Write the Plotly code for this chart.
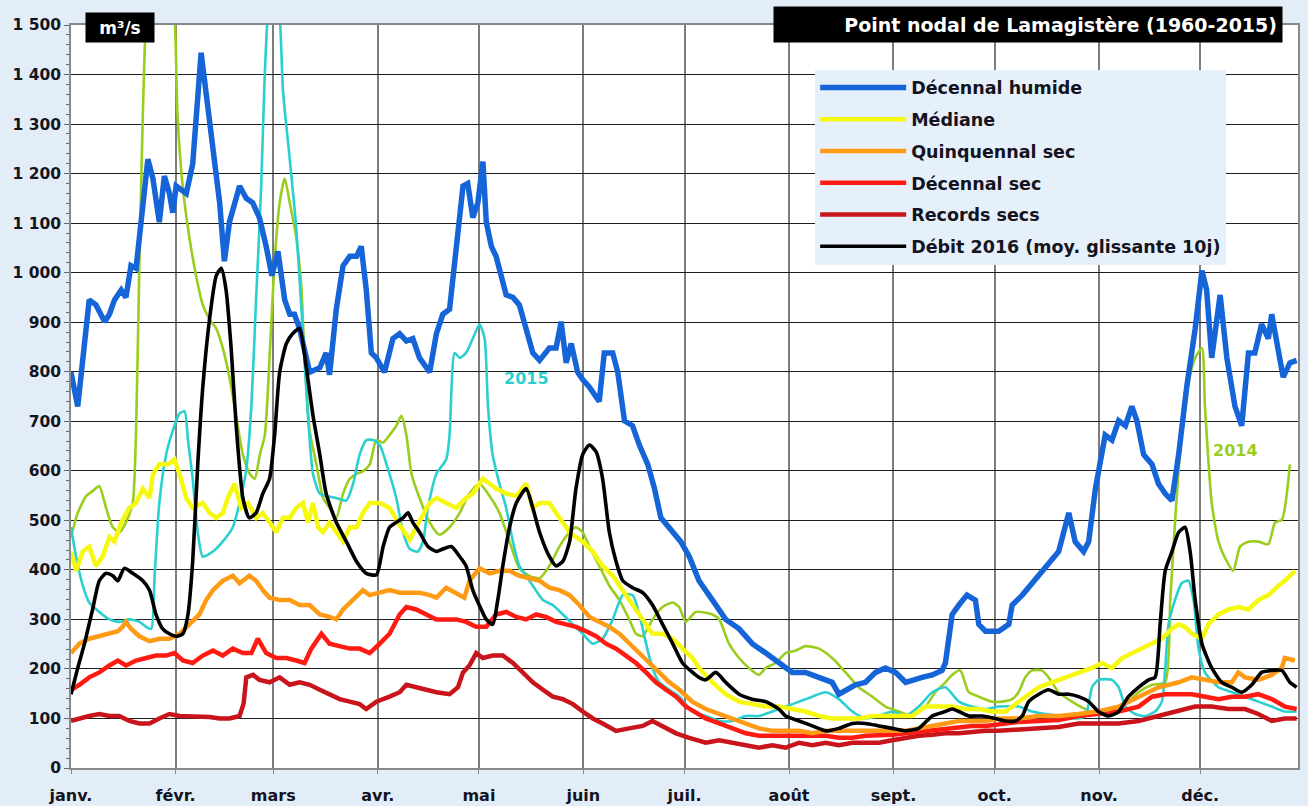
import plotly.graph_objects as go

# ---------------- data (day of year, m3/s) ----------------
month_days = [0, 31, 60, 91, 121, 152, 182, 213, 244, 274, 305, 335]
month_labels = ["janv.", "févr.", "mars", "avr.", "mai", "juin", "juil.", "août", "sept.", "oct.", "nov.", "déc."]
y_ticks = [0, 100, 200, 300, 400, 500, 600, 700, 800, 900, 1000, 1100, 1200, 1300, 1400, 1500]
y_tick_labels = ["0", "100", "200", "300", "400", "500", "600", "700", "800", "900",
                 "1 000", "1 100", "1 200", "1 300", "1 400", "1 500"]

humide_days = [0, 2, 5.4, 7.4, 10, 11.4, 12.9, 14.9, 16.3, 17.8, 19.3, 20.8, 22.8, 24.3, 26.2, 27.7, 29.2, 30.2, 31.2, 34.2,
               36.1, 38.6, 40.1, 42.1, 44.1, 45.5, 47, 50, 52, 53.9, 55.9, 57.9, 59.6, 61.4, 63.4, 64.9, 66.3, 67.8, 70.8,
               73.8, 75.7, 76.7, 78.7, 80.7, 82.7, 84.7, 86.1, 87.6, 89.1, 90.6, 93, 95.5, 97.5, 99.5, 101.4, 103.4, 106.4,
               108.4, 110.3, 112.3, 114.3, 116.3, 117.7, 119.2, 120.7, 122.2, 123.2, 124.7, 126.1, 127.6, 129.1, 131.1, 133,
               135, 137, 139, 141.9, 143.9, 145.4, 146.9, 148.4, 150.3, 151.8, 153.8, 156.7, 158.2, 160.7, 162.2, 164.2,
               166.6, 168.6, 171.1, 173.1, 175, 177.5, 180.9, 183.4, 186.3, 190.3, 194.2, 198.2, 202.1, 206.1, 210, 214,
               217.9, 221.9, 225.8, 227.8, 229.8, 232.7, 235.7, 238.7, 241.6, 244.6, 247.6, 249.5, 252.5, 255.5, 258.4,
               259.4, 261.4, 263.4, 265.8, 268.3, 269.3, 271.3, 275.2, 278.2, 279.2, 282.2, 285.1, 289.1, 293, 296, 297.9,
               300.4, 301.9, 303.9, 306.8, 308.8, 310.8, 312.8, 314.7, 316.2, 318.2, 320.7, 322.6, 324.6, 326.6, 328.6, 331,
               333.5, 335.5, 336.9, 338.4, 340.9, 342.9, 345.3, 347.3, 349.3, 351.2, 353.2, 355.2, 356.2, 358.2, 359.6,
               361.6, 363.6]
humide_vals = [799, 730, 945, 935, 901, 916, 945, 965, 950, 1014, 1009, 1102, 1229, 1190, 1102, 1195, 1160, 1121, 1175, 1160,
               1219, 1444, 1366, 1258, 1141, 1023, 1102, 1175, 1150, 1141, 1111, 1053, 994, 1043, 945, 916, 916, 887, 799,
               808, 838, 794, 926, 1014, 1033, 1033, 1053, 965, 838, 828, 799, 867, 877, 862, 867, 828, 799,
               877, 916, 926, 1053, 1175, 1180, 1111, 1141, 1224, 1102, 1053, 1033, 994, 955, 950, 935,
               887, 838, 823, 848, 848, 901, 818, 857, 799, 784, 769, 740, 838, 838, 799, 701,
               691, 652, 613, 564, 505, 486, 457, 427, 378, 339, 300, 281, 251, 232, 212, 193,
               193, 183, 173, 149, 158, 168, 173, 193, 202, 193, 173, 178, 183, 188, 197,
               212, 310, 329, 349, 339, 290, 276, 276, 290, 329, 349, 373, 408, 437, 515, 457,
               437, 457, 564, 672, 662, 701, 691, 730, 701, 633, 613, 574, 554, 540, 633, 770,
               887, 1004, 965, 828, 955, 828, 730, 691, 838, 838, 896, 867, 916, 838, 789,
               818, 823]

mediane_days = [0, 1.5, 3.5, 5.4, 7.4, 9.4, 11.4, 12.9, 14.9, 17.3, 19.3, 21.3, 23.3, 24.3, 26.2, 28.7, 30.7, 32.2, 34.2,
                36.1, 39.1, 41.1, 43.1, 45.1, 46.5, 48.5, 50.5, 52.5, 55, 56.9, 58.9, 60.9, 62.9, 64.9, 66.8, 68.8, 70.3,
                71.8, 73.3, 74.8, 76.7, 78.7, 80.7, 82.7, 84.7, 86.6, 88.6, 91.6, 94.5, 97.5, 100.5, 103.5, 106.4, 108.4,
                111.3, 114.3, 117.2, 119.2, 122.2, 124.2, 126.1, 129.1, 132.1, 135, 137, 139, 141.9, 143.9, 145.9, 147.9,
                149.8, 151.8, 154.8, 157.7, 160.7, 163.7, 166.6, 169.6, 172.5, 175.5, 178.5, 181.4, 184.4, 186.3, 190.3,
                194.2, 198.2, 202.1, 206.1, 210, 214, 217.9, 221.9, 225.8, 229.8, 233.7, 237.7, 241.6, 245.6, 249.5, 253.5,
                257.4, 261.4, 265.3, 269.3, 273.2, 277.2, 279.2, 283.1, 287.1, 291, 295, 298.9, 302.9, 305.8, 308.8, 311.8,
                314.7, 317.7, 320.7, 323.6, 326.6, 328.6, 330.5, 332.5, 335.5, 337.4, 340.4, 343.4, 346.3, 349.3, 352.2,
                355.2, 358.2, 360.1, 363.1]
mediane_vals = [437, 398, 437, 447, 408, 427, 466, 457, 496, 525, 535, 564, 545, 593, 613, 613, 623, 593, 545,
                525, 535, 515, 505, 515, 545, 574, 525, 535, 505, 515, 496, 476, 505, 505, 525, 535, 496,
                535, 486, 476, 496, 476, 457, 486, 486, 515, 535, 535, 525, 490, 461, 500, 535, 545,
                535, 525, 545, 554, 584, 574, 564, 554, 549, 574, 525, 535, 535, 515, 496, 476,
                466, 457, 437, 408, 388, 359, 329, 300, 271, 271, 261, 241, 222, 202, 173,
                149, 134, 129, 124, 124, 119, 114, 105, 100, 100, 100, 105, 105, 105, 105, 124,
                124, 124, 119, 119, 114, 114, 124, 144, 163, 173, 183, 193, 202, 212, 202, 222,
                232, 241, 251, 261, 281, 290, 285, 271, 261, 290, 310, 320, 325, 320, 339,
                349, 368, 378, 398]

quinq_days = [0, 2.5, 5.4, 8.4, 11.4, 13.9, 15.3, 16.3, 17.8, 20.3, 23.3, 26.2, 29.2, 32.2, 35.1, 38.1, 40.1, 42.1, 45,
              48, 50, 52.9, 54.9, 56.9, 58.9, 61.9, 64.9, 67.8, 70.8, 73.8, 76.7, 78.7, 80.7, 83.7, 86.6, 88.6, 91.6, 94.5,
              97.5, 100.5, 103.4, 106.4, 108.4, 111.3, 114.3, 116.7, 118.2, 121.2, 124.2, 127.1, 130.1, 133, 136, 139,
              141.9, 144.9, 147.9, 150.8, 153.8, 156.7, 159.7, 162.7, 165.6, 168.6, 171.6, 174.5, 177.5, 180.5, 184.3,
              188.3, 192.3, 196.2, 200.2, 204.1, 208.1, 212, 216, 219.9, 223.9, 227.8, 231.8, 235.7, 239.7, 243.6, 247.6,
              251.5, 255.5, 259.4, 263.4, 267.3, 271.3, 275.2, 281.1, 287.1, 293, 298.9, 304.8, 310.8, 316.7, 322.6,
              328.6, 332.5, 336.5, 340.4, 344.4, 346.3, 348.3, 352.2, 356.2, 359.2, 360.1, 363.1]
quinq_vals = [232, 251, 261, 266, 271, 276, 285, 295, 281, 266, 256, 261, 261, 271, 290, 310, 339, 359, 378,
              388, 373, 388, 378, 359, 344, 339, 339, 329, 329, 310, 305, 300, 320, 339, 359, 349, 354, 359,
              354, 354, 354, 349, 344, 364, 354, 344, 378, 403, 393, 398, 398, 388, 383, 378,
              364, 359, 349, 329, 305, 295, 285, 271, 251, 232, 212, 193, 173, 158, 134,
              119, 109, 100, 90, 80, 75, 75, 75, 70, 75, 75, 75, 75, 75, 75, 75,
              80, 85, 90, 95, 95, 95, 100, 100, 105, 105, 109, 114, 124, 144, 163,
              173, 183, 178, 173, 173, 193, 183, 178, 188, 202, 222, 217]

decsec_days = [0, 2.5, 5.4, 8.4, 11.4, 13.9, 16.3, 19.3, 22.3, 25.2, 28.2, 30.7, 33.2, 36.1, 39.1, 42.1, 45, 48, 51, 53.5,
               55.4, 57.9, 60.9, 63.9, 66.8, 69.3, 71.3, 74.3, 76.7, 79.7, 82.7, 85.6, 88.6, 91.6, 94.5, 97.5, 99.5, 102.4,
               105.4, 108.4, 111.3, 114.3, 117.2, 120.2, 123.2, 126.1, 129.1, 132.1, 135, 138, 140.9, 143.9, 146.9, 149.8,
               152.8, 155.8, 158.7, 161.7, 164.6, 167.6, 170.6, 173.5, 176.5, 179.5, 182.4, 185.9, 188.3, 192.3, 196.2,
               200.2, 204.1, 208.1, 212, 216, 219.9, 223.9, 227.8, 231.8, 235.7, 239.7, 243.6, 247.6, 251.5, 255.5, 259.4,
               263.4, 267.3, 271.3, 275.2, 281.1, 287.1, 293, 298.9, 304.8, 310.8, 316.7, 320.7, 324.6, 328.6, 332.5,
               336.5, 340.4, 344.4, 348.3, 352.2, 356.2, 360.1, 363.6]
decsec_vals = [158, 168, 183, 193, 207, 217, 207, 217, 222, 227, 227, 232, 217, 212, 227, 237, 227, 241, 232, 232,
               261, 232, 222, 222, 217, 212, 241, 271, 251, 246, 241, 241, 232, 251, 271, 310, 325, 320,
               310, 300, 300, 300, 295, 285, 285, 310, 315, 305, 300, 310, 305, 295, 290, 285,
               276, 266, 251, 241, 227, 212, 193, 173, 158, 144, 124, 109, 100, 90, 80,
               70, 65, 65, 65, 65, 67, 65, 61, 61, 65, 65, 67, 70, 73, 77, 80,
               83, 85, 85, 88, 93, 95, 97, 105, 109, 114, 124, 144, 149, 149, 149,
               144, 139, 144, 144, 149, 139, 124, 119]

records_days = [0, 2.5, 5.4, 8.4, 11.4, 14.3, 17.3, 20.3, 23.3, 26.2, 29.2, 32.2, 35.1, 38.1, 41.1, 44.1, 47, 50, 51.2, 52,
                54, 55.9, 58.9, 61.9, 64.9, 67.8, 70.8, 73.8, 76.7, 79.7, 82.7, 85.6, 87.6, 90.6, 94.5, 97.5, 99.5, 102.4,
                105.4, 108.4, 112.3, 114.8, 116.3, 118.2, 120.2, 122.2, 125.1, 128.1, 131.1, 134, 137, 140, 142.9, 145.9,
                148.9, 151.8, 154.8, 157.7, 161.7, 165.6, 169.6, 172.5, 175.5, 179.5, 183.4, 188.3, 192.3, 196.2, 200.2,
                204.1, 208.1, 212, 216, 219.9, 223.9, 227.8, 231.8, 235.7, 239.7, 243.6, 247.6, 251.5, 255.5, 259.4, 263.4,
                267.3, 271.3, 275.2, 281.1, 287.1, 293, 298.9, 304.8, 310.8, 316.7, 322.6, 328.6, 333.5, 338.4, 343.4,
                348.3, 352.2, 356.2, 360.1, 363.6]
records_vals = [95, 100, 105, 109, 105, 105, 95, 90, 90, 100, 109, 105, 105, 105, 103, 100, 100, 105, 130, 183,
                188, 178, 173, 183, 168, 173, 168, 158, 149, 139, 134, 129, 119, 134, 144, 153, 168, 163,
                158, 153, 149, 163, 193, 207, 232, 222, 227, 227, 212, 193, 173, 158, 144, 139,
                129, 114, 100, 90, 75, 80, 85, 95, 85, 70, 61, 51, 56, 51, 46,
                41, 46, 41, 51, 46, 51, 46, 51, 51, 51, 56, 61, 65, 67, 70, 70,
                73, 75, 75, 77, 80, 83, 90, 90, 90, 95, 105, 114, 124, 124, 119,
                119, 109, 95, 100, 100]

debit2016_days = [0, 2, 4, 6.4, 8.4, 10.4, 12.4, 13.9, 15.8, 18.3, 21.3, 23.3, 25.2, 27.2, 29.2, 31.2, 33.2, 34.7, 36.1,
                  37.6, 39.1, 41.1, 43.1, 44.6, 46, 47.5, 49, 51, 52.9, 54.9, 56.9, 58.9, 60.4, 61.9, 63.9, 65.8, 67.8,
                  69.8, 71.8, 73.8, 75.7, 78.7, 81.7, 84.7, 87.6, 90.6, 92.6, 94.5, 96.5, 98.5, 100, 101.4, 103.4, 105.9,
                  108.4, 110.3, 112.8, 115.3, 117.2, 119.2, 121.7, 123.2, 125.1, 126.6, 128.1, 130.1, 132.1, 135, 137, 139,
                  141.9, 143.9, 145.9, 147.9, 149.8, 151.8, 153.8, 155.8, 157.7, 159.7, 161.7, 163.7, 166.6, 169.6, 172.5,
                  175.5, 178.5, 181.4, 184.4, 186.3, 188.3, 191.3, 194.2, 198.2, 202.1, 206.1, 210, 212, 216, 219.9, 223.9,
                  227.8, 231.8, 235.7, 239.7, 243.6, 247.6, 251.5, 255.5, 259.4, 261.4, 263.4, 266.3, 270.3, 274.2, 277.2,
                  280.2, 282.2, 284.1, 287.1, 290, 293, 296, 298.9, 301.9, 304.8, 307.8, 310.8, 313.7, 316.7, 319.7, 321.6,
                  323.1, 324.6, 326.6, 328.6, 330.5, 332, 333.5, 335.5, 338.4, 341.4, 344.4, 347.3, 350.3, 353.2, 356.2,
                  359.2, 361.6, 363.6]
debit2016_vals = [149, 202, 251, 320, 378, 393, 388, 378, 403, 393, 378, 359, 310, 281, 271, 266, 271, 310, 417,
                  613, 769, 906, 994, 1009, 965, 848, 691, 545, 505, 515, 554, 584, 672, 799, 857, 877, 887,
                  808, 711, 633, 554, 496, 457, 417, 393, 390, 447, 486, 496, 505, 515, 496, 476, 447,
                  437, 442, 447, 427, 408, 359, 320, 300, 290, 339, 408, 486, 535, 564, 525, 476,
                  427, 408, 417, 457, 564, 633, 652, 638, 584, 476, 417, 378, 364, 354, 329,
                  290, 251, 212, 193, 183, 178, 193, 173, 149, 139, 134, 119, 105, 95, 85, 75,
                  80, 90, 90, 85, 80, 75, 80, 105, 114, 119, 114, 105, 105, 100, 95,
                  95, 105, 134, 149, 158, 149, 149, 144, 134, 114, 105, 114, 144, 163, 178, 183,
                  290, 398, 437, 476, 486, 437, 339, 251, 202, 173, 163, 153, 168, 193, 197,
                  197, 173, 163]

an2015_days = [0, 1.5, 3.5, 5.4, 8.4, 11.4, 14.4, 17.3, 20.3, 22.3, 23.8, 24.8, 26.2, 28.2, 30.2, 32.2, 33.7, 34.7, 36.1,
               37.6, 39.1, 42.1, 45, 48, 50, 52, 53.5, 54.9, 56.4, 57.4, 58.4, 60.2, 61.9, 62.9, 64.9, 66.8, 68.8, 70.3,
               71.8, 73.8, 75.7, 78.7, 81.7, 83.7, 85.6, 87.6, 89.6, 91.6, 93.6, 96.5, 98.5, 100.5, 102.9, 104.4, 105.9,
               108.4, 111.3, 112.3, 113.8, 115.3, 117.2, 119.2, 121.2, 122.7, 123.7, 125.1, 127.1, 129.1, 131.1, 133,
               135, 137, 140, 142.9, 145.9, 148.9, 151.8, 154.8, 157.7, 160.7, 163.7, 166.6, 168.6, 170.6, 172.5, 174.5,
               177.5, 180.5, 184.3, 188.3, 192.3, 196.2, 200.2, 204.1, 208.1, 212, 216, 219.9, 223.9, 227.8, 231.8,
               235.7, 239.7, 243.6, 247.6, 251.5, 255.5, 259.4, 263.4, 267.3, 271.3, 275.2, 281.1, 285.1, 289.1, 293,
               296.9, 300.9, 302.9, 304.8, 308.8, 310.8, 312.8, 315.7, 318.7, 321.6, 323.6, 325.6, 327.5, 329.5, 331.5,
               333, 334.5, 336.4, 340.4, 344.4, 348.3, 352.2, 356.2, 360.1, 363.6]
an2015_vals = [486, 427, 368, 334, 315, 300, 295, 300, 295, 285, 281, 388, 535, 632, 681, 716, 720, 662, 584,
               476, 427, 437, 457, 486, 535, 603, 730, 945, 1170, 1385, 1520, 1600, 1520, 1366, 1229, 1092, 877, 711,
               593, 554, 549, 545, 540, 574, 632, 662, 662, 652, 613, 545, 476, 442, 437, 457, 525,
               594, 623, 672, 838, 828, 838, 867, 896, 867, 730, 632, 574, 525, 457, 408,
               388, 368, 339, 329, 310, 290, 271, 251, 261, 300, 349, 349, 310, 251, 202, 173,
               158, 144, 114, 105, 95, 95, 105, 105, 114, 124, 134, 144, 153, 139, 114,
               100, 105, 114, 105, 124, 153, 163, 134, 124, 119, 124, 124, 114, 109, 105,
               100, 105, 163, 178, 178, 163, 124, 109, 105, 114, 134, 290, 339, 373, 378,
               339, 241, 193, 163, 153, 144, 134, 124, 114, 114]

an2014_days = [0, 2, 4.5, 6.4, 8.4, 10.4, 12.4, 14.4, 16.3, 18.3, 19.3, 20.3, 21.3, 22.3, 26, 30.7, 31.6, 33.2, 35.1, 37.1,
               39.1, 41.1, 43.1, 45, 47, 49, 51, 53, 54.5, 56, 57.5, 58.9, 60.4, 61.9, 63.4, 64.9, 66.8, 68.3, 69.3, 70.8,
               72.8, 74.8, 76.7, 78.7, 80.7, 82.7, 84.7, 86.6, 88.6, 90.6, 92.6, 94.5, 96.5, 98, 99.5, 101, 103.4, 106.4,
               109.3, 112.3, 115.3, 118.2, 121.2, 124.2, 127.1, 130.1, 133, 136, 139, 141.9, 144.9, 147.9, 149.8, 151.8,
               153.8, 156.7, 159.7, 162.7, 165.6, 167.6, 169.6, 172.5, 175.5, 178.5, 180.4, 182.4, 185.3, 190.3, 192.3,
               195.2, 198.2, 201.1, 204.1, 206.1, 209, 212, 215, 217.9, 221.9, 225.8, 229.8, 233.7, 237.7, 241.6, 245.6,
               249.5, 253.5, 256.4, 259.4, 261.4, 263.8, 266.3, 269.3, 273.2, 276.2, 279.2, 281.1, 283.1, 285.1, 288, 290,
               293, 296.9, 300.9, 304.8, 308.8, 312.8, 316.7, 320.7, 324.6, 326.1, 327.6, 329.5, 331.5, 333.5, 335.5,
               336.4, 338.4, 340.4, 342.8, 344.8, 346.8, 349.3, 352.2, 355.2, 357.2, 359.2, 361.6]
an2014_vals = [466, 515, 549, 559, 569, 525, 486, 476, 496, 535, 681, 1023, 1317, 1520, 1800, 1520, 1317, 1170, 1072, 994,
               935, 906, 887, 848, 789, 711, 632, 594, 584, 632, 672, 828, 1023, 1141, 1190, 1141, 1072, 975, 828, 681,
               613, 545, 525, 505, 554, 584, 594, 599, 613, 662, 657, 672, 691, 711, 672, 594, 545, 496,
               471, 486, 515, 554, 574, 549, 515, 457, 403, 388, 383, 408, 447, 476, 486, 476,
               447, 408, 368, 339, 300, 271, 266, 300, 325, 334, 325, 295, 315, 310, 300,
               251, 222, 202, 188, 202, 212, 232, 237, 246, 241, 222, 193, 163, 144, 124, 114,
               105, 124, 153, 173, 188, 197, 153, 144, 134, 134, 139, 153, 183, 197, 197, 183,
               153, 134, 119, 109, 114, 129, 153, 168, 173, 339, 505, 681, 779, 828, 848,
               730, 535, 457, 418, 398, 447, 457, 457, 452, 496, 501, 613]

# ---------------- figure ----------------
fig = go.Figure()

def add_line(days, vals, name, color, width, show, rank, shape="linear"):
    fig.add_trace(go.Scatter(
        x=days, y=vals, mode="lines", name=name,
        line=dict(color=color, width=width, shape=shape, smoothing=0.6 if shape == "spline" else None),
        showlegend=show, legendgroup=name, legendrank=rank, hoverinfo="skip"))

add_line(an2014_days, an2014_vals, "2014", "#9acd1e", 2.6, False, 1000, "spline")
add_line(an2015_days, an2015_vals, "2015", "#2ccfd0", 2.6, False, 1000, "spline")
add_line(records_days, records_vals, "Records secs", "#c8141a", 4.5, True, 5)
add_line(decsec_days, decsec_vals, "Décennal sec", "#ff1a12", 4.5, True, 4)
add_line(quinq_days, quinq_vals, "Quinquennal sec", "#ff9a14", 4.5, True, 3)
add_line(mediane_days, mediane_vals, "Médiane", "#f6f80f", 4.5, True, 2)
add_line(humide_days, humide_vals, "Décennal humide", "#1565d8", 5.5, True, 1)
add_line(debit2016_days, debit2016_vals, "Débit 2016 (moy. glissante 10j)", "#000000", 3.6, True, 6, "spline")

bold = dict(family="DejaVu Sans", size=15, color="#14141e", weight="bold")
legend_font = dict(family="DejaVu Sans", size=17.5, color="#14141e", weight="bold")

fig.update_layout(
    width=1308, height=806,
    margin=dict(l=71, r=10, t=25, b=38),
    paper_bgcolor="#e2edf7",
    plot_bgcolor="#ffffff",
    font=bold,
    showlegend=True,
    legend=dict(x=0.6065, y=0.94, xanchor="left", yanchor="top",
                bgcolor="#e6f0fa", borderwidth=0, font=legend_font,
                itemwidth=86, tracegroupgap=6, traceorder="grouped"),
    xaxis=dict(range=[0, 364], tickmode="array", tickvals=month_days, ticktext=month_labels,
               showgrid=True, gridcolor="#7d7d7d", gridwidth=1.5, zeroline=False,
               showline=True, linecolor="#888888", linewidth=1.5, mirror=True,
               ticks="outside", ticklen=4, tickcolor="#888888", ticklabelstandoff=8,
               automargin=False,
               tickfont=dict(family="DejaVu Sans", size=16, color="#14141e", weight="bold")),
    yaxis=dict(range=[0, 1500], tickmode="array", tickvals=y_ticks, ticktext=y_tick_labels,
               showgrid=True, gridcolor="#1e1e1e", gridwidth=1, zeroline=False,
               showline=True, linecolor="#888888", linewidth=1.5, mirror=True,
               ticks="outside", ticklen=5, tickcolor="#666666", automargin=False,
               minor=dict(dtick=20, ticks="outside", ticklen=3, tickcolor="#666666", showgrid=False),
               tickfont=dict(family="DejaVu Sans", size=15.5, color="#14141e", weight="bold")),
    annotations=[
        dict(xref="paper", yref="paper", x=0.988, y=1.0007, xanchor="right", yanchor="middle",
             text="Point nodal de Lamagistère (1960-2015)", showarrow=False,
             font=dict(family="DejaVu Sans", size=19, color="#ffffff", weight="bold"),
             bgcolor="#000000", width=498, height=25, align="right", borderpad=5),
        dict(xref="paper", yref="paper", x=0.04, y=0.997, xanchor="center", yanchor="middle",
             text="m³/s", showarrow=False,
             font=dict(family="DejaVu Sans", size=17, color="#ffffff", weight="bold"),
             bgcolor="#000000", width=60, height=21, borderpad=4),
        dict(x=135, y=787, xref="x", yref="y", text="2015", showarrow=False,
             font=dict(family="DejaVu Sans", size=16, color="#2ccfd0", weight="bold")),
        dict(x=345.5, y=642, xref="x", yref="y", text="2014", showarrow=False,
             font=dict(family="DejaVu Sans", size=16, color="#9acd1e", weight="bold")),
    ],
)

fig.write_html("out.html", config={"displayModeBar": False},
               post_script="document.body.style.margin='0';document.body.style.overflow='hidden';")
